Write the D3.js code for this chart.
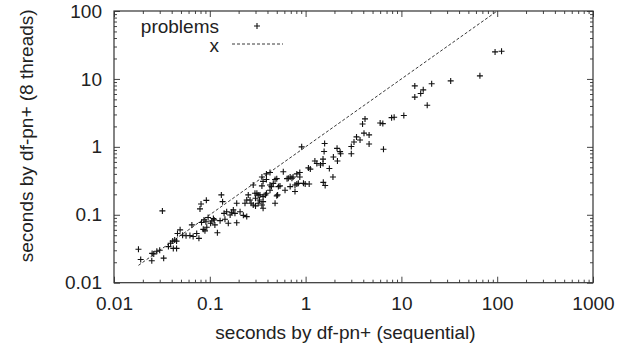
<!DOCTYPE html>
<html>
<head>
<meta charset="utf-8">
<script src="https://cdn.jsdelivr.net/npm/d3@7"></script>
<style>
  body { margin: 0; background: #fff; }
  text { font-family: "Liberation Sans", Arial, sans-serif; fill: #222; }
</style>
</head>
<body>
<div id="chart"></div>
<script>
// solve times: sequential (x) vs 8 threads (y), in seconds
const seqTimes = [
  95, 111, 66, 32.7, 20.7, 13.8, 16.9, 15.9, 13.8, 18.6,
  10.6, 8.4, 7.9, 6.4, 6.0, 4.17, 3.93, 4.07, 4.6, 3.7,
  3.4, 3.2, 4.6, 6.5, 3.0, 2.29, 2.13, 3.0, 2.32, 1.95,
  2.15, 1.58, 1.56, 1.52, 1.52, 1.25, 1.31, 1.43, 1.77, 1.93,
  1.53, 1.6, 0.91, 1.07, 1.12, 0.87, 0.81, 0.87, 0.69, 0.74,
  0.72, 0.64, 0.585, 0.66, 0.425, 0.39, 0.35, 0.39, 0.48, 0.50,
  0.46, 0.425, 0.44, 0.36, 0.284, 0.35, 0.54, 0.61, 0.69, 0.775,
  0.81, 0.84, 0.95, 0.99, 1.09, 0.51, 0.775, 0.31, 0.32, 0.36,
  0.38, 0.30, 0.33, 0.36, 0.39, 0.27, 0.30, 0.48, 0.36, 0.50,
  0.425, 0.52, 0.018, 0.019, 0.0248, 0.026, 0.028, 0.030, 0.032, 0.033,
  0.037, 0.039, 0.041, 0.043, 0.0416, 0.045, 0.046, 0.049, 0.052, 0.0565,
  0.062, 0.067, 0.065, 0.073, 0.077, 0.081, 0.079, 0.092, 0.082, 0.087,
  0.091, 0.096, 0.102, 0.109, 0.113, 0.12, 0.128, 0.132, 0.136, 0.141,
  0.15, 0.163, 0.169, 0.176, 0.191, 0.183, 0.207, 0.243, 0.233, 0.243,
  0.252, 0.296, 0.334, 0.32, 0.35, 0.224, 0.263, 0.284, 0.191, 0.156,
  0.144, 0.105, 0.111, 0.0855, 0.089, 0.093, 0.025, 0.045
];
const parTimes = [
  25, 25.6, 11.1, 9.35, 8.5, 7.9, 6.9, 6.1, 5.4, 4.1,
  2.9, 2.73, 2.69, 2.2, 2.25, 2.58, 2.17, 1.59, 1.5, 1.26,
  1.4, 1.18, 1.1, 0.92, 1.01, 0.85, 0.95, 0.79, 0.79, 0.71,
  0.62, 1.12, 0.855, 0.66, 0.57, 0.62, 0.57, 0.54, 0.48, 0.36,
  0.30, 0.27, 1.0, 0.49, 0.47, 0.42, 0.40, 0.36, 0.36, 0.36,
  0.345, 0.34, 0.43, 0.345, 0.42, 0.40, 0.36, 0.33, 0.33, 0.34,
  0.29, 0.275, 0.26, 0.31, 0.275, 0.266, 0.266, 0.23, 0.26, 0.275,
  0.284, 0.29, 0.29, 0.284, 0.284, 0.196, 0.22, 0.207, 0.196, 0.185,
  0.196, 0.175, 0.165, 0.156, 0.207, 0.148, 0.135, 0.148, 0.125, 0.19,
  0.23, 0.26, 0.031, 0.022, 0.021, 0.0265, 0.029, 0.030, 0.114, 0.023,
  0.034, 0.038, 0.041, 0.0425, 0.032, 0.032, 0.053, 0.060, 0.050, 0.049,
  0.0496, 0.048, 0.071, 0.053, 0.045, 0.144, 0.122, 0.163, 0.077, 0.084,
  0.079, 0.091, 0.075, 0.088, 0.071, 0.0545, 0.082, 0.196, 0.156, 0.105,
  0.111, 0.099, 0.109, 0.118, 0.148, 0.105, 0.111, 0.094, 0.148, 0.165,
  0.196, 0.207, 0.196, 0.148, 0.139, 0.098, 0.165, 0.139, 0.0765, 0.075,
  0.086, 0.081, 0.084, 0.061, 0.058, 0.0655, 0.027, 0.041
];
const xTicks = [0.01, 0.1, 1, 10, 100, 1000];
const xTickLabels = ["0.01", "0.1", "1", "10", "100", "1000"];
const yTicks = [0.01, 0.1, 1, 10, 100];
const yTickLabels = ["0.01", "0.1", "1", "10", "100"];
const seriesNames = ["problems", "x"];

const W = 629, H = 345;
const margin = {top: 11, right: 36, bottom: 62.3, left: 114};
const width = W - margin.left - margin.right;
const height = H - margin.top - margin.bottom;

const svg = d3.select("#chart").append("svg")
  .attr("width", W).attr("height", H)
  .append("g")
  .attr("transform", "translate(" + margin.left + "," + margin.top + ")");

const x = d3.scaleLog().domain([0.01, 1000]).range([0, width]);
const y = d3.scaleLog().domain([0.01, 100]).range([height, 0]);

// minor ticks 2..9 in every decade
const minor = (dom) => {
  const out = [];
  for (let e = Math.log10(dom[0]); e < Math.log10(dom[1]); e++)
    for (let k = 2; k <= 9; k++) out.push(k * Math.pow(10, e));
  return out;
};

function styleAxis(g) {
  g.select(".domain").remove();
  g.selectAll("line").attr("stroke", "#444");
  g.selectAll("text").attr("font-size", 19).attr("fill", "#222")
    .attr("font-family", "'Liberation Sans', Arial, sans-serif");
}

// bottom
svg.append("g").attr("transform", "translate(0," + height + ")")
  .call(d3.axisBottom(x).tickValues(xTicks).tickSize(-6).tickPadding(14)
    .tickFormat((d, i) => xTickLabels[i]))
  .call(styleAxis);
svg.append("g").attr("transform", "translate(0," + height + ")")
  .call(d3.axisBottom(x).tickValues(minor(x.domain())).tickSize(-3).tickFormat(""))
  .call(styleAxis);
// top
svg.append("g")
  .call(d3.axisTop(x).tickValues(xTicks).tickSize(-6).tickFormat(""))
  .call(styleAxis);
svg.append("g")
  .call(d3.axisTop(x).tickValues(minor(x.domain())).tickSize(-3).tickFormat(""))
  .call(styleAxis);
// left
svg.append("g")
  .call(d3.axisLeft(y).tickValues(yTicks).tickSize(-6).tickPadding(12)
    .tickFormat((d, i) => yTickLabels[i]))
  .call(styleAxis);
svg.append("g")
  .call(d3.axisLeft(y).tickValues(minor(y.domain())).tickSize(-3).tickFormat(""))
  .call(styleAxis);
// right
svg.append("g").attr("transform", "translate(" + width + ",0)")
  .call(d3.axisRight(y).tickValues(yTicks).tickSize(-6).tickFormat(""))
  .call(styleAxis);
svg.append("g").attr("transform", "translate(" + width + ",0)")
  .call(d3.axisRight(y).tickValues(minor(y.domain())).tickSize(-3).tickFormat(""))
  .call(styleAxis);

// frame
svg.append("rect")
  .attr("width", width).attr("height", height)
  .attr("fill", "none").attr("stroke", "#333").attr("stroke-width", 1.2);

// x = y reference line
const lineStart = d3.min(seqTimes);
svg.append("path")
  .datum([lineStart, 100])
  .attr("d", d3.line().x(d => x(d)).y(d => y(d)))
  .attr("fill", "none").attr("stroke", "#222").attr("stroke-width", 0.9)
  .attr("stroke-dasharray", "3,2");

// points
const plus = "M-3,0H3M0,-3V3";
svg.selectAll(".pt")
  .data(seqTimes.map((d, i) => [d, parTimes[i]]))
  .enter().append("path")
  .attr("class", "pt")
  .attr("transform", d => "translate(" + x(d[0]) + "," + y(d[1]) + ")")
  .attr("d", plus)
  .attr("stroke", "#111").attr("stroke-width", 1.1).attr("fill", "none");

// legend (in svg coords relative to plot)
const leg = svg.append("g");
leg.append("text").attr("x", 105).attr("y", 22).attr("text-anchor", "end")
  .attr("font-size", 19).text(seriesNames[0]);
leg.append("path").attr("transform", "translate(143,15)").attr("d", plus)
  .attr("stroke", "#111").attr("stroke-width", 1.1);
leg.append("text").attr("x", 105).attr("y", 41).attr("text-anchor", "end")
  .attr("font-size", 19).text(seriesNames[1]);
leg.append("line").attr("x1", 118).attr("x2", 169).attr("y1", 33).attr("y2", 33)
  .attr("stroke", "#222").attr("stroke-width", 0.9).attr("stroke-dasharray", "3,2");

// axis titles
svg.append("text")
  .attr("x", width / 2 - 8).attr("y", height + 56)
  .attr("text-anchor", "middle").attr("font-size", 19)
  .text("seconds by df-pn+ (sequential)");
svg.append("text")
  .attr("transform", "translate(-81," + (height / 2 - 11) + ") rotate(-90)")
  .attr("text-anchor", "middle").attr("font-size", 19)
  .text("seconds by df-pn+ (8 threads)");
</script>
</body>
</html>
